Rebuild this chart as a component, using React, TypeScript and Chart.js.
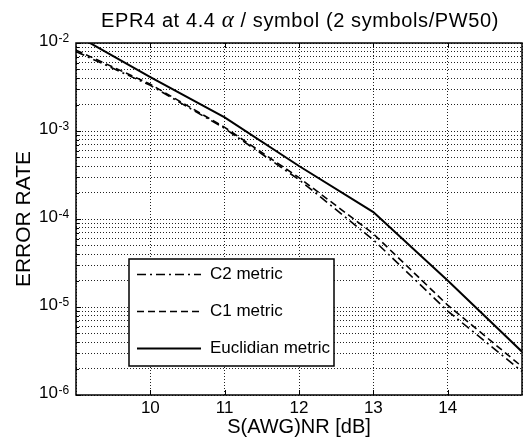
import React, { useEffect, useRef } from 'react';
import { Chart, registerables } from 'chart.js';

Chart.register(...registerables);

// ---- data ----
const snrDb = [9, 10, 11, 12, 13, 14, 15];
const c2Metric = [8.0e-3, 3.3e-3, 1.07e-3, 2.8e-4, 5.8e-5, 9.0e-6, 1.85e-6];
const c1Metric = [8.3e-3, 3.4e-3, 1.1e-3, 2.95e-4, 6.8e-5, 1.05e-5, 2.1e-6];
const euclidianMetric = [1.23e-2, 4.1e-3, 1.43e-3, 4.0e-4, 1.2e-4, 2.0e-5, 3.1e-6];
const seriesLabels = ['C2 metric', 'C1 metric', 'Euclidian metric'];

const xTickValues = [10, 11, 12, 13, 14];
const yDecadeExponents = [-2, -3, -4, -5, -6];
const yMinorSignificands = [1, 2, 3, 4, 5, 6, 7, 8, 9];

const titleParts = ['EPR4 at 4.4 ', 'α', ' / symbol (2 symbols/PW50)'];
const xAxisTitle = 'S(AWG)NR [dB]';
const yAxisTitle = 'ERROR RATE';

const FONT = '"Liberation Sans", Arial, Helvetica, sans-serif';

export default function App() {
  const ref = useRef<HTMLCanvasElement>(null);

  useEffect(() => {
    const canvas = ref.current;
    if (!canvas) return;

    const series = [c2Metric, c1Metric, euclidianMetric];
    const styles = [
      { borderDash: [9, 4, 2, 4], borderWidth: 1.6 },
      { borderDash: [7, 4], borderWidth: 1.6 },
      { borderDash: [] as number[], borderWidth: 2 },
    ];

    const gridValues: number[] = [];
    for (let e = -6; e <= -3; e++) {
      for (const s of yMinorSignificands) gridValues.push(s * Math.pow(10, e));
    }
    gridValues.push(1e-2);

    const decor = {
      id: 'decor',
      afterDraw(chart: any) {
        const { ctx, chartArea: a, scales } = chart;
        const xs = scales.x;
        const ys = scales.y;
        ctx.save();
        ctx.setLineDash([]);
        ctx.strokeStyle = '#000';
        ctx.fillStyle = '#000';

        // inward tick marks
        ctx.lineWidth = 1;
        ctx.beginPath();
        xTickValues.forEach((v) => {
          const px = Math.round(xs.getPixelForValue(v)) + 0.5;
          ctx.moveTo(px, a.bottom);
          ctx.lineTo(px, a.bottom - 5);
          ctx.moveTo(px, a.top);
          ctx.lineTo(px, a.top + 5);
        });
        gridValues.forEach((v) => {
          const py = Math.round(ys.getPixelForValue(v)) + 0.5;
          const major = Math.abs(Math.log10(v) - Math.round(Math.log10(v))) < 1e-6;
          const len = major ? 5 : 3;
          ctx.moveTo(a.left, py);
          ctx.lineTo(a.left + len, py);
        });
        ctx.stroke();

        // frame
        ctx.lineWidth = 1.5;
        ctx.strokeRect(a.left, a.top, a.right - a.left, a.bottom - a.top);

        // y decade labels with superscript exponent
        yDecadeExponents.forEach((e) => {
          const py = ys.getPixelForValue(Math.pow(10, e));
          ctx.font = `17px ${FONT}`;
          ctx.textAlign = 'right';
          ctx.textBaseline = 'alphabetic';
          ctx.fillText('10', a.left - 18, py + 3);
          ctx.font = `12px ${FONT}`;
          ctx.textAlign = 'left';
          ctx.fillText(String(e), a.left - 17.5, py - 1.5);
        });

        // title
        const fonts = [`20px ${FONT}`, `italic 23px "Liberation Serif", serif`, `20px ${FONT}`];
        (ctx as any).letterSpacing = '0.6px';
        const widths = titleParts.map((t, i) => {
          ctx.font = fonts[i];
          return ctx.measureText(t).width;
        });
        const total = widths.reduce((s, w) => s + w, 0);
        let tx = (a.left + a.right) / 2 + 1 - total / 2;
        ctx.textAlign = 'left';
        ctx.textBaseline = 'alphabetic';
        titleParts.forEach((t, i) => {
          ctx.font = fonts[i];
          ctx.fillText(t, tx, 27);
          tx += widths[i];
        });
        (ctx as any).letterSpacing = '0px';

        // legend box
        const lx = a.left + 53;
        const ly = a.top + 216;
        const lw = 205;
        const lh = 107;
        ctx.fillStyle = '#fff';
        ctx.fillRect(lx, ly, lw, lh);
        ctx.strokeStyle = '#000';
        ctx.lineWidth = 1.5;
        ctx.strokeRect(lx, ly, lw, lh);
        const rowY = [15, 52, 89];
        chart.data.datasets.forEach((ds: any, i: number) => {
          const y = ly + rowY[i] + 0.5;
          ctx.save();
          ctx.strokeStyle = ds.borderColor;
          ctx.lineWidth = ds.borderWidth;
          ctx.setLineDash(ds.borderDash || []);
          ctx.beginPath();
          ctx.moveTo(lx + 8, y);
          ctx.lineTo(lx + 72, y);
          ctx.stroke();
          ctx.restore();
          ctx.fillStyle = '#000';
          ctx.font = `17px ${FONT}`;
          ctx.textAlign = 'left';
          ctx.textBaseline = 'middle';
          ctx.fillText(ds.label, lx + 81, y);
        });

        ctx.restore();
      },
    };

    const chart = new Chart(canvas, {
      type: 'line',
      data: {
        datasets: series.map((ys, i) => ({
          label: seriesLabels[i],
          data: snrDb.map((x, j) => ({ x, y: ys[j] })),
          borderColor: '#000',
          backgroundColor: '#000',
          borderWidth: styles[i].borderWidth,
          borderDash: styles[i].borderDash,
          pointRadius: 0,
          tension: 0,
          fill: false,
        })),
      },
      options: {
        responsive: false,
        animation: false,
        events: [],
        layout: { padding: { left: 0, top: 43, right: 1, bottom: 0 } },
        plugins: {
          legend: { display: false },
          title: { display: false },
          tooltip: { enabled: false },
        },
        scales: {
          x: {
            type: 'linear',
            min: 9,
            max: 15,
            afterBuildTicks: (scale: any) => {
              scale.ticks = snrDb.map((v) => ({ value: v }));
            },
            afterFit: (scale: any) => {
              scale.height = 44;
            },
            ticks: {
              autoSkip: false,
              maxRotation: 0,
              padding: 3,
              color: '#000',
              font: { family: FONT, size: 17 },
              callback: (v: any) => (xTickValues.includes(Number(v)) ? String(v) : ''),
            },
            grid: { color: '#222', lineWidth: 1, drawTicks: false },
            border: { display: false, dash: [1, 2] },
            title: {
              display: true,
              text: xAxisTitle,
              color: '#000',
              font: { family: FONT, size: 20, lineHeight: 1.2 },
              padding: { top: 0, bottom: 0 },
            },
          },
          y: {
            type: 'logarithmic',
            min: 1e-6,
            max: 1e-2,
            afterBuildTicks: (scale: any) => {
              scale.ticks = gridValues.map((v) => ({ value: v }));
            },
            afterFit: (scale: any) => {
              scale.width = 76;
            },
            ticks: { display: false, autoSkip: false },
            grid: { color: '#222', lineWidth: 1, drawTicks: false },
            border: { display: false, dash: [1, 2] },
            title: {
              display: true,
              text: yAxisTitle,
              color: '#000',
              font: { family: FONT, size: 21, lineHeight: 1.2 },
              padding: { top: 12, bottom: 0 },
            },
          },
        },
      },
      plugins: [decor],
    });

    return () => chart.destroy();
  }, []);

  return (
    <div
      style={{
        position: 'fixed',
        left: 0,
        top: 0,
        width: 523,
        height: 439,
        overflow: 'hidden',
        background: '#fff',
      }}
    >
      <canvas ref={ref} width={525} height={439} style={{ display: 'block', width: 525, height: 439 }} />
    </div>
  );
}
